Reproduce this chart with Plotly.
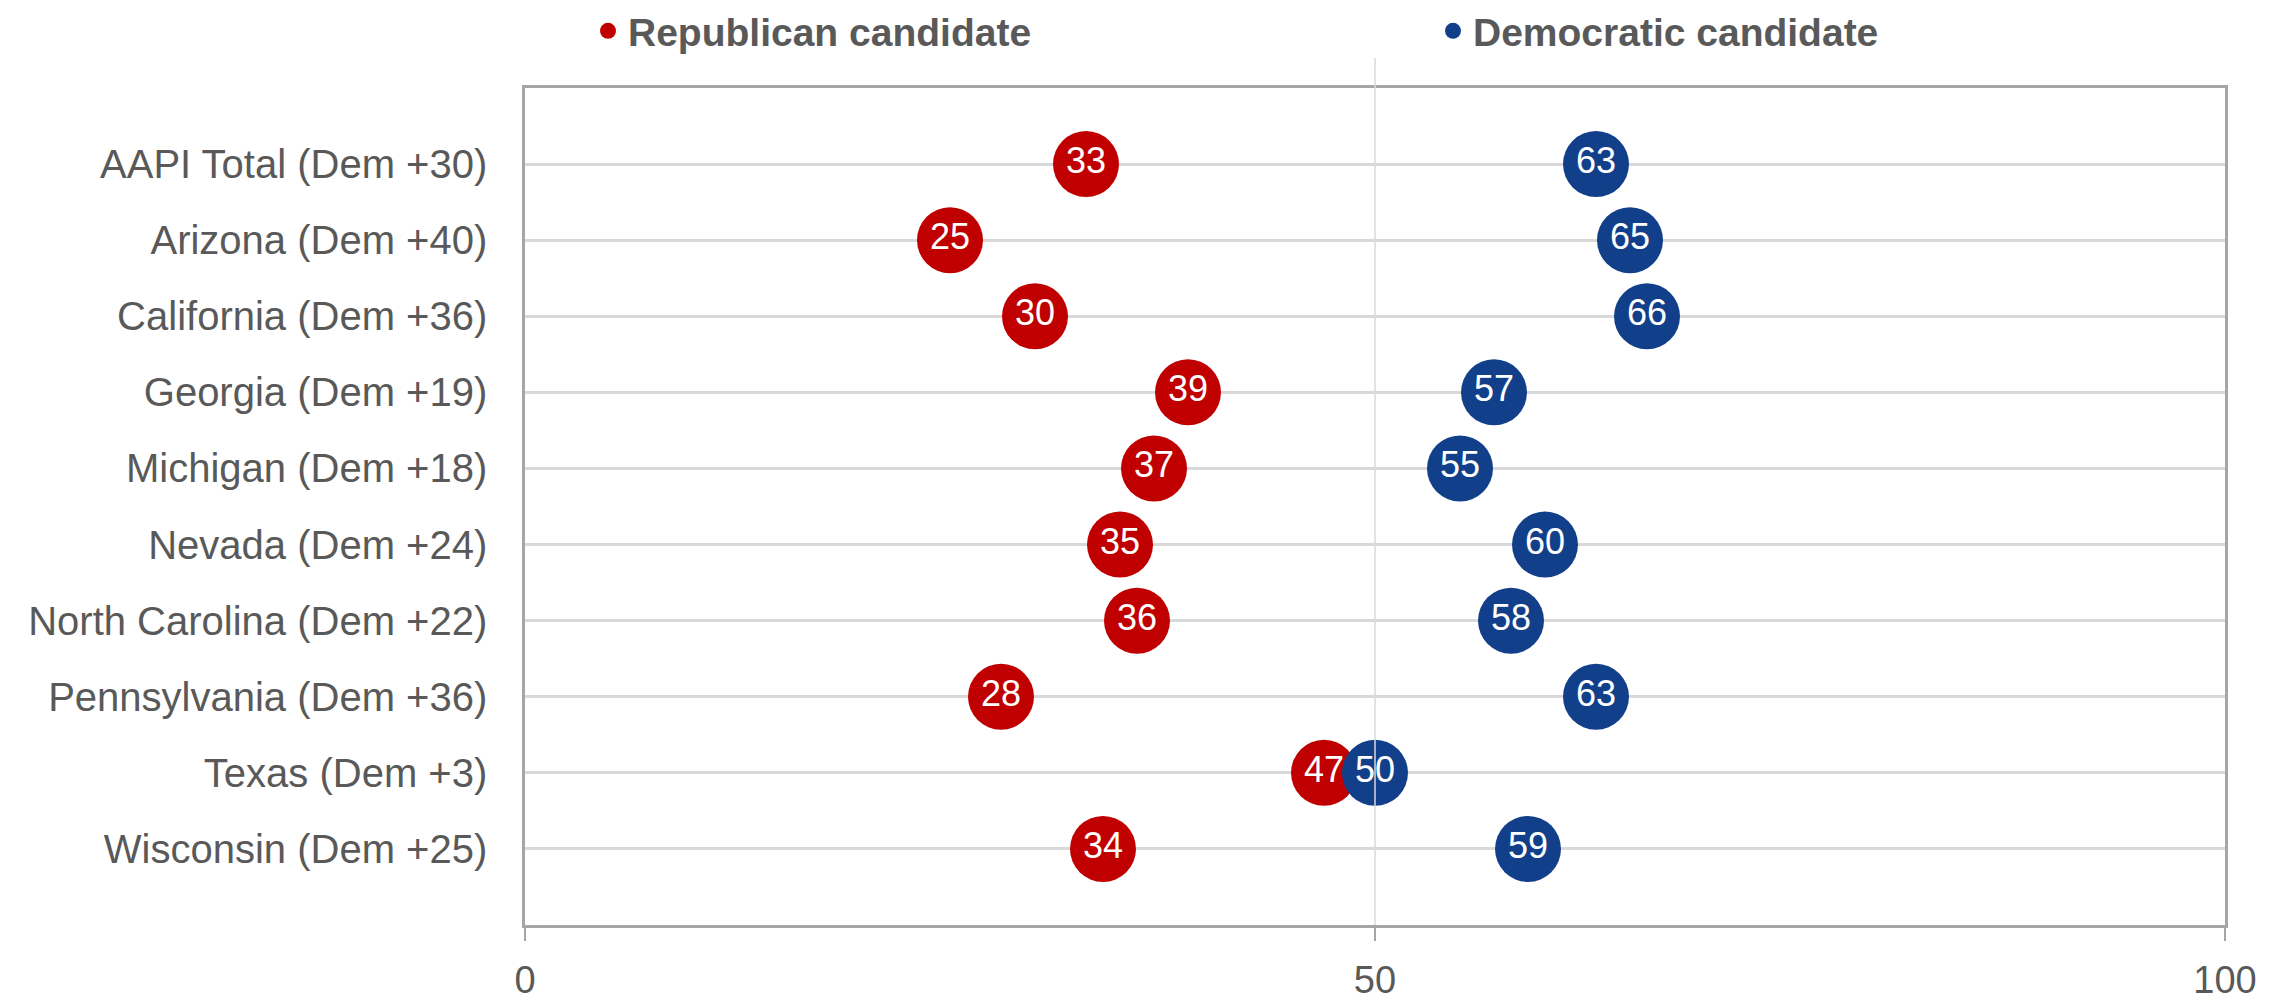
import plotly.graph_objects as go

categories = [
    "AAPI Total (Dem +30)",
    "Arizona (Dem +40)",
    "California (Dem +36)",
    "Georgia (Dem +19)",
    "Michigan (Dem +18)",
    "Nevada (Dem +24)",
    "North Carolina (Dem +22)",
    "Pennsylvania (Dem +36)",
    "Texas (Dem +3)",
    "Wisconsin (Dem +25)",
]
republican = [33, 25, 30, 39, 37, 35, 36, 28, 47, 34]
democratic = [63, 65, 66, 57, 55, 60, 58, 63, 50, 59]
x_ticks = [0, 50, 100]

RED = "#C00000"
BLUE = "#123F8A"
GRAY_TXT = "#595959"
FONT = "Liberation Sans, Arial, sans-serif"

W, H = 2295, 999
ML, MR, MT, MB = 517, 78, 80, 82

fig = go.Figure()
fig.add_trace(go.Scatter(
    x=republican, y=categories, mode="markers", name="Republican candidate",
    marker=dict(color=RED, size=66, line=dict(width=0)),
))
fig.add_trace(go.Scatter(
    x=democratic, y=categories, mode="markers", name="Democratic candidate",
    marker=dict(color=BLUE, size=66, line=dict(width=0)),
))
for vals in (republican, democratic):
    fig.add_trace(go.Scatter(
        x=vals, y=categories, mode="text", text=[str(v) for v in vals],
        textposition="middle center", showlegend=False, hoverinfo="skip",
        textfont=dict(color="white", size=36, family=FONT),
    ))

# thin vertical reference line at 50, drawn above markers
fig.add_shape(type="line", xref="x", yref="paper", x0=50, x1=50,
              y0=0, y1=(H - MB - 50) / (H - MB - MT),
              line=dict(color="#DADADA", width=1.5), layer="above")

fig.update_layout(
    width=W, height=H,
    margin=dict(l=ML, r=MR, t=MT, b=MB, autoexpand=False),
    paper_bgcolor="white", plot_bgcolor="white",
    font=dict(family=FONT, size=38, color=GRAY_TXT),
    showlegend=True,
    legend=dict(
        orientation="h", xref="container", yref="container",
        x=580 / W, xanchor="left", y=1 - 23 / H, yanchor="middle",
        entrywidth=800, font=dict(size=39, color=GRAY_TXT, family=FONT, weight="bold"),
        itemsizing="trace", bgcolor="rgba(0,0,0,0)",
    ),
    xaxis=dict(
        range=[0, 100], tickvals=x_ticks, ticktext=[str(t) for t in x_ticks],
        showgrid=False, zeroline=False, automargin=False,
        showline=True, linecolor="#A6A6A6", linewidth=3, mirror=True,
        ticks="outside", ticklen=13, tickwidth=2, tickcolor="#A6A6A6",
        tickfont=dict(size=38, color=GRAY_TXT), ticklabelstandoff=6,
    ),
    yaxis=dict(
        type="category", categoryorder="array", categoryarray=categories,
        range=[len(categories), -1], automargin=False,
        showgrid=True, gridcolor="#D9D9D9", gridwidth=2.7, zeroline=False,
        showline=True, linecolor="#A6A6A6", linewidth=2.5, mirror=True,
        ticks="", tickfont=dict(size=40, color=GRAY_TXT), ticklabelstandoff=27,
    ),
)

fig.write_html("out.html")
